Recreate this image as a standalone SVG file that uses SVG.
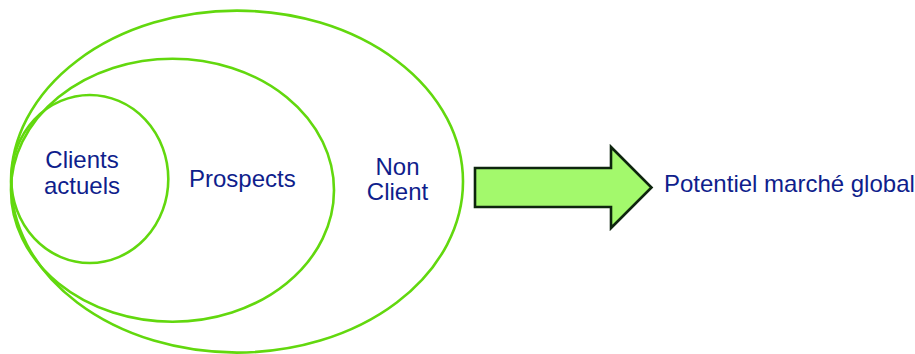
<svg xmlns="http://www.w3.org/2000/svg" width="915" height="354" viewBox="0 0 915 354">
  <style>
    .ring { fill: none; stroke: #62D80E; stroke-width: 2.6; }
    .lbl { font-family: "Liberation Sans", Arial, sans-serif; font-size: 24px; fill: #0F1E8C; }
    .arrow { fill: #A3F96C; stroke: #0E250E; stroke-width: 2.6; stroke-linejoin: miter; }
  </style>
  <rect width="915" height="354" fill="#FFFFFF"/>
  <g id="non-client">
    <ellipse class="ring" cx="237" cy="181.6" rx="226" ry="171"/>
    <text class="lbl" x="397.5" y="175" text-anchor="middle">Non</text>
    <text class="lbl" x="397.5" y="200" text-anchor="middle">Client</text>
  </g>
  <g id="prospects">
    <ellipse class="ring" cx="172.5" cy="190.2" rx="161.5" ry="131.5"/>
    <text class="lbl" x="189" y="186.7">Prospects</text>
  </g>
  <g id="clients-actuels">
    <ellipse class="ring" cx="89.8" cy="179" rx="78.5" ry="84"/>
    <text class="lbl" x="82" y="168.3" text-anchor="middle">Clients</text>
    <text class="lbl" x="82" y="194.3" text-anchor="middle">actuels</text>
  </g>
  <g id="connectors">
    <polygon class="arrow" points="475,168 611,168 611,147 651.5,187.5 611,228 611,207 475,207"/>
  </g>
  <g id="potentiel">
    <text class="lbl" x="664" y="192">Potentiel marché global</text>
  </g>
</svg>
